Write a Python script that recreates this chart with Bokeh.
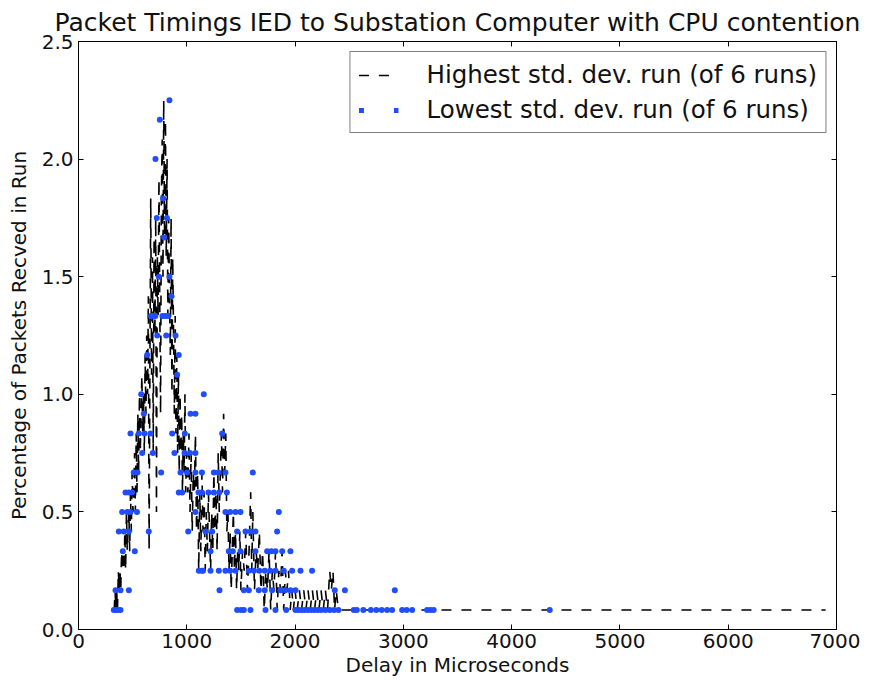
from bokeh.plotting import figure
from bokeh.models import (ColumnDataSource, LinearAxis, FixedTicker, CDSView, IndexFilter,
                          PrintfTickFormatter, Legend, LegendItem, Range1d)
from bokeh.embed import file_html
from bokeh.resources import INLINE

title_text = "Packet Timings IED to Substation Computer with CPU contention"
x_label = "Delay in Microseconds"
y_label = "Percentage of Packets Recved in Run"
high_label = "Highest std. dev. run (of 6 runs)"
low_label = "Lowest std. dev. run (of 6 runs)"
x_ticks = [0, 1000, 2000, 3000, 4000, 5000, 6000, 7000]
y_ticks = [0.0, 0.5, 1.0, 1.5, 2.0, 2.5]

# Highest std. dev. run (dashed black line)
high_x = [330, 338, 345, 352, 360, 368, 375, 383, 390, 398, 405, 413, 420, 428, 435, 443,
          450, 458, 465, 473, 480, 488, 495, 503, 510, 518, 525, 533, 540, 548, 555, 563,
          570, 578, 585, 593, 600, 608, 615, 623, 630, 638, 645, 652, 660, 667, 675, 683,
          690, 698, 705, 713, 720, 728, 735, 743, 750, 758, 765, 773, 780, 787, 795, 803,
          810, 818, 825, 833, 840, 848, 855, 863, 870, 878, 885, 893, 900, 908, 915, 923,
          930, 938, 945, 953, 960, 968, 975, 983, 990, 998,
          1010, 1020, 1030, 1040, 1050, 1060, 1070, 1080, 1090, 1100, 1110, 1120, 1130,
          1140, 1150, 1160, 1170, 1180, 1190, 1200, 1210, 1220, 1230, 1240, 1250, 1260,
          1270, 1280, 1290, 1300, 1310, 1320, 1330, 1340, 1350, 1360, 1370, 1380, 1390,
          1400, 1410, 1420, 1430, 1440, 1450, 1460, 1470, 1480, 1490, 1500,
          1515, 1530, 1545, 1560, 1575, 1590, 1600, 1610, 1625, 1640, 1655, 1670, 1685,
          1700, 1715, 1730, 1745, 1760, 1775, 1790, 1805, 1820, 1835, 1850, 1865, 1880,
          1895, 1910, 1925, 1940, 1955, 1970, 1985, 2000,
          2020, 2040, 2060, 2080, 2100, 2120, 2140, 2160, 2180, 2200, 2220, 2240, 2260,
          2280, 2300, 2320, 2335, 2350, 2365, 2380, 2400, 2450, 6900]
high_y = [0.083, 0.167, 0.083, 0.167, 0.083, 0.25, 0.167, 0.25, 0.167, 0.333, 0.25, 0.333,
          0.25, 0.417, 0.25, 0.5, 0.333, 0.417, 0.5, 0.333, 0.583, 0.417, 0.667, 0.5,
          0.583, 0.75, 0.5, 0.833, 0.583, 0.917, 0.667, 1.0, 0.75, 0.917, 1.083, 0.833,
          1.0, 0.75, 1.167, 0.917, 1.25, 1.0, 1.417, 0.333, 1.167, 1.833, 1.083, 1.583,
          0.75, 1.667, 1.25, 1.75, 0.5, 1.583, 1.333, 1.917, 1.417, 0.917, 1.833, 2.083,
          1.5, 2.25, 1.667, 2.167, 1.583, 2.0, 1.333, 1.75, 1.417, 1.167, 1.75, 1.0,
          1.583, 1.25, 0.917, 1.333, 0.833, 1.167, 0.75, 1.083, 0.667, 1.0, 0.75, 0.917,
          0.583, 0.833, 0.667, 1.0, 0.583, 0.75,
          0.583, 0.833, 0.5, 0.75, 0.417, 0.667, 0.583, 0.833, 0.417, 0.667, 0.25, 0.583,
          0.333, 0.667, 0.417, 0.583, 0.25, 0.5, 0.333, 0.583, 0.417, 0.25, 0.5, 0.333,
          0.667, 0.417, 0.583, 0.333, 0.75, 0.5, 0.667, 0.833, 0.583, 0.917, 0.667, 0.833,
          0.417, 0.5, 0.25, 0.417, 0.167, 0.333, 0.5, 0.25, 0.417, 0.167, 0.333, 0.25,
          0.417, 0.167,
          0.333, 0.25, 0.417, 0.167, 0.333, 0.583, 0.25, 0.5, 0.167, 0.333, 0.25, 0.417,
          0.167, 0.333, 0.083, 0.25, 0.167, 0.333, 0.083, 0.25, 0.167, 0.333, 0.083, 0.25,
          0.167, 0.333, 0.083, 0.25, 0.167, 0.25, 0.083, 0.167, 0.083, 0.167,
          0.083, 0.167, 0.083, 0.167, 0.083, 0.167, 0.083, 0.167, 0.083, 0.167, 0.083,
          0.167, 0.083, 0.167, 0.083, 0.25, 0.167, 0.25, 0.083, 0.167, 0.083, 0.083, 0.083]

# Lowest std. dev. run (blue points)
low_x = [326, 345, 365, 388, 1465, 1500, 1527, 1588, 1727, 1819, 1918, 2004, 2030, 2060,
         2090, 2120, 2150, 2180, 2210, 2240, 2280, 2320, 2360, 2400, 2542, 2570, 2630,
         2700, 2750, 2800, 2850, 2896, 2989, 3030, 3081, 3219, 3250, 3280, 4352,
         342, 388, 465, 1302, 1527, 1573, 1665, 1720, 1788, 1865, 1910, 1957, 2004, 2367,
         2460, 2921,
         1111, 1136, 1150, 1219, 1296, 1357, 1400, 1450, 1573, 1620, 1670, 1720, 1770,
         1819, 1896, 1973, 2050, 2157,
         409, 520, 1219, 1388, 1425, 1496, 1634, 1742, 1780, 1819, 1881, 1957,
         372, 418, 465, 649, 1013, 1173, 1234, 1465, 1542, 1590, 1634, 1834,
         403, 450, 480, 540, 1080, 1357, 1400, 1450, 1496, 1850,
         434, 465, 495, 926, 957, 1108, 1140, 1200, 1250, 1300, 1370,
         510, 545, 763, 942, 1003, 1080, 1140, 1250, 1290, 1357, 1610,
         588, 686, 886, 979, 1030, 1080,
         480, 557, 610, 665, 865, 982, 1327,
         603, 1034, 1080,
         579, 1157,
         911,
         634, 926,
         727, 810, 896,
         670, 690, 710, 775, 800, 825,
         859,
         742, 840,
         791,
         723, 816,
         782,
         711,
         751,
         840]
low_y = [0.083, 0.083, 0.083, 0.083, 0.083, 0.083, 0.083, 0.083, 0.083, 0.083, 0.083,
         0.083, 0.083, 0.083, 0.083, 0.083, 0.083, 0.083, 0.083, 0.083, 0.083, 0.083,
         0.083, 0.083, 0.083, 0.083, 0.083, 0.083, 0.083, 0.083, 0.083, 0.083, 0.083,
         0.083, 0.083, 0.083, 0.083, 0.083, 0.083,
         0.167, 0.167, 0.167, 0.167, 0.167, 0.167, 0.167, 0.167, 0.167, 0.167, 0.167,
         0.167, 0.167, 0.167, 0.167, 0.167,
         0.25, 0.25, 0.25, 0.25, 0.25, 0.25, 0.25, 0.25, 0.25, 0.25, 0.25, 0.25, 0.25,
         0.25, 0.25, 0.25, 0.25, 0.25,
         0.333, 0.333, 0.333, 0.333, 0.333, 0.333, 0.333, 0.333, 0.333, 0.333, 0.333, 0.333,
         0.417, 0.417, 0.417, 0.417, 0.417, 0.417, 0.417, 0.417, 0.417, 0.417, 0.417, 0.417,
         0.5, 0.5, 0.5, 0.5, 0.5, 0.5, 0.5, 0.5, 0.5, 0.5,
         0.583, 0.583, 0.583, 0.583, 0.583, 0.583, 0.583, 0.583, 0.583, 0.583, 0.583,
         0.667, 0.667, 0.667, 0.667, 0.667, 0.667, 0.667, 0.667, 0.667, 0.667, 0.667,
         0.75, 0.75, 0.75, 0.75, 0.75, 0.75,
         0.833, 0.833, 0.833, 0.833, 0.833, 0.833, 0.833,
         0.917, 0.917, 0.917,
         1.0, 1.0,
         1.083,
         1.167, 1.167,
         1.25, 1.25, 1.25,
         1.333, 1.333, 1.333, 1.333, 1.333, 1.333,
         1.417,
         1.5, 1.5,
         1.667,
         1.75, 1.75,
         1.833,
         2.0,
         2.167,
         2.25]

FONT = "DejaVu Sans"
TXT = "#111111"
BLUE = "#1f4dff"

p = figure(frame_width=758, frame_height=588, output_backend="svg",
           toolbar_location=None, x_range=Range1d(0, 7000), y_range=Range1d(0, 2.5),
           min_border_left=78, min_border_right=24, min_border_top=40,
           min_border_bottom=10, background_fill_color="white",
           border_fill_color="white")
p.title.text = title_text
p.title.align = "center"
p.title.text_font = FONT
p.title.text_font_size = "25px"
p.title.text_font_style = "normal"
p.title.text_color = TXT
p.title.standoff = 10
p.title.offset = 0

p.grid.visible = False
p.outline_line_color = "black"
p.outline_line_width = 1

top_axis = LinearAxis()
right_axis = LinearAxis()
p.add_layout(top_axis, "above")
p.add_layout(right_axis, "right")

for ax in p.xaxis:
    ax.ticker = FixedTicker(ticks=x_ticks)
for ax in p.yaxis:
    ax.ticker = FixedTicker(ticks=y_ticks)
    ax.formatter = PrintfTickFormatter(format="%.1f")

for ax in list(p.xaxis) + list(p.yaxis):
    ax.major_tick_in = 5
    ax.major_tick_out = 0
    ax.minor_tick_line_color = None
    ax.axis_line_color = "black"
    ax.major_tick_line_color = "black"
    ax.major_label_text_font = FONT
    ax.major_label_text_color = TXT
    ax.axis_label_text_font = FONT
    ax.axis_label_text_font_style = "normal"
    ax.axis_label_text_color = TXT
    ax.major_label_text_font_size = "20px"
    ax.axis_label_text_font_size = "20px"
    ax.major_label_standoff = 4
    ax.axis_label_standoff = 2

for ax in (top_axis, right_axis):
    ax.major_label_text_font_size = "0px"
    ax.major_label_text_color = None
    ax.major_label_standoff = 0
    ax.axis_label = None

p.below[0].axis_label = x_label
p.left[0].axis_label = y_label
p.left[0].major_label_standoff = 5
p.left[0].axis_label_standoff = 8

high_src = ColumnDataSource(dict(x=high_x, y=high_y))
low_src = ColumnDataSource(dict(x=low_x, y=low_y))

r_high = p.line("x", "y", source=high_src, line_color="black", line_width=1.6,
                line_dash="10 10")
r_low = p.scatter("x", "y", source=low_src, marker="circle", size=6,
                  fill_color=BLUE, line_color=None)
# legend sample for the points (matplotlib style: a dot at each end of the sample);
# a one-point line view draws nothing in the plot itself
r_low_key = p.line("x", "y", source=low_src, view=CDSView(filter=IndexFilter(indices=[0])),
                   line_color=BLUE, line_width=5, line_dash="5 30")

legend = Legend(items=[LegendItem(label=high_label, renderers=[r_high]),
                       LegendItem(label=low_label, renderers=[r_low_key])],
                location="top_right")
legend.label_text_font = FONT
legend.label_text_font_size = "24.5px"
legend.label_text_color = TXT
legend.border_line_color = "black"
legend.border_line_width = 1
legend.background_fill_alpha = 1
legend.glyph_width = 40
legend.glyph_height = 24
legend.label_height = 24
legend.label_standoff = 28
legend.spacing = 6
legend.padding = 8
legend.margin = 10
p.add_layout(legend)

open("out.html", "w").write(file_html(p, INLINE))
